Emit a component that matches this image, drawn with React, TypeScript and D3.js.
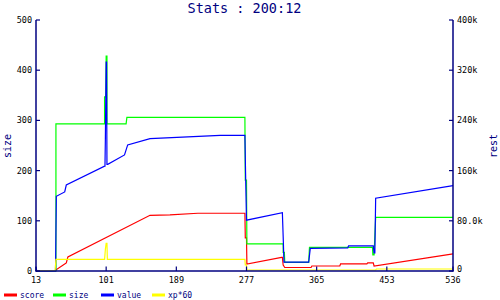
import React from "react";
import * as d3 from "d3";

const title = "Stats : 200:12";
const xTicks = [13, 101, 189, 277, 365, 453, 536];
const leftTicks = [0, 100, 200, 300, 400, 500];
const rightTicks = [0, 80000, 160000, 240000, 320000, 400000];
const rightTickLabels = ["0", "80.0k", "160k", "240k", "320k", "400k"];

// score (left axis)
const scoreData: [number, number][] = [
  [13, 0], [37, 1], [49, 14], [51, 16], [53, 28], [156, 111], [181, 112], [216, 115], [275, 115],
  [275.5, 66], [277, 66], [277.5, 14], [321, 27], [322, 27], [323, 12], [325, 7], [358, 7], [359, 10],
  [394, 10], [395, 14], [428, 14], [429, 16], [436, 16], [437, 10], [536, 34],
];
// size (left axis)
const sizeData: [number, number][] = [
  [13, 0], [38, 0], [38, 293], [99, 293], [99, 347], [100.5, 347], [101, 428], [102, 428], [102, 293],
  [126, 293], [127, 306], [275, 306], [275.5, 181], [277, 181], [277.5, 54], [323, 54], [323, 37],
  [324.5, 37], [325, 17], [355, 17], [356, 47], [435, 47], [435.5, 32], [437, 32], [438, 70], [439, 107], [536, 107],
];
// value (right axis, thousands)
const valueData: [number, number][] = [
  [13, 6], [14, 0], [37.5, 0], [38, 61], [38.5, 119], [49, 126], [51, 137], [99, 167], [99.5, 167],
  [100, 210], [101, 333], [101.5, 333], [102, 170], [103, 170], [124, 185], [126, 193], [128, 201],
  [156, 211], [244, 216], [275, 216], [276, 145], [277, 81], [322, 93], [323, 55], [324, 14], [355, 14],
  [357, 36], [404, 37], [405, 40], [436, 40], [437, 29], [438, 29], [439, 116], [536, 136],
];
// xp*60 (left axis)
const xpData: [number, number][] = [
  [13, 1], [37, 1], [38, 23], [99, 23], [100, 43], [101, 55], [102, 55], [102.5, 23], [275, 23],
  [275.5, 12], [277, 12], [277.5, 2], [439, 2], [440, 4], [536, 4],
];

const legendNames = ["score", "size", "value", "xp*60"];
const colors = ["#ff0000", "#00ff00", "#0000ff", "#ffff00"];

export default function App() {
  const W = 500, H = 300;
  const x = d3.scaleLinear().domain([13, 536]).range([36, 453]);
  const yL = d3.scaleLinear().domain([0, 500]).range([271, 20]);
  const yR = d3.scaleLinear().domain([0, 400000]).range([271, 20]);
  const navy = "#000080";
  const font = "'DejaVu Sans Mono', monospace";

  const lineL = d3.line<[number, number]>().x(d => x(d[0])).y(d => yL(d[1]));
  const lineR = d3.line<[number, number]>().x(d => x(d[0])).y(d => yR(d[1] * 1000));

  const series = [
    lineL(scoreData),
    lineL(sizeData),
    lineR(valueData),
    lineL(xpData),
  ];
  const legendX = [4, 53, 101, 152];

  return (
    <svg width={W} height={H} style={{ position: "absolute", left: 0, top: 0, background: "#fff" }}>
      <text x={244.5} y={13} textAnchor="middle" fontFamily={font} fontSize={13.5} fill={navy}>{title}</text>
      {series.map((d, i) => (
        <path key={i} d={d || ""} fill="none" stroke={colors[i]} strokeWidth={1.2} />
      ))}
      {/* axes */}
      <line x1={36} x2={36} y1={20} y2={271.5} stroke={navy} strokeWidth={1.5} />
      <line x1={453} x2={453} y1={20} y2={271.5} stroke={navy} strokeWidth={1.5} />
      <line x1={35.5} x2={453.5} y1={271} y2={271} stroke={navy} strokeWidth={1.5} />
      {leftTicks.map(t => (
        <g key={"l" + t}>
          <line x1={36} x2={40} y1={yL(t)} y2={yL(t)} stroke={navy} strokeWidth={1.2} />
          <text x={32} y={yL(t)} dy="0.35em" textAnchor="end" fontFamily={font} fontSize={8.5} fill="#000">{t}</text>
        </g>
      ))}
      {rightTicks.map((t, i) => (
        <g key={"r" + t}>
          <line x1={449} x2={453} y1={yR(t)} y2={yR(t)} stroke={navy} strokeWidth={1.2} />
          <text x={457} y={yR(t) - (t === 0 ? 1.5 : 0)} dy="0.35em" textAnchor="start" fontFamily={font} fontSize={8.5} fill="#000">{rightTickLabels[i]}</text>
        </g>
      ))}
      {xTicks.map(t => (
        <g key={"x" + t}>
          <line x1={x(t)} x2={x(t)} y1={271} y2={266.5} stroke={navy} strokeWidth={1.2} />
          <text x={x(t)} y={282.5} textAnchor="middle" fontFamily={font} fontSize={8.5} fill="#000">{t}</text>
        </g>
      ))}
      <text transform="translate(11,146) rotate(-90)" textAnchor="middle" fontFamily={font} fontSize={10} fill={navy}>size</text>
      <text transform="translate(497,146) rotate(-90)" textAnchor="middle" fontFamily={font} fontSize={10} fill={navy}>rest</text>
      {legendNames.map((n, i) => (
        <g key={n}>
          <line x1={legendX[i]} x2={legendX[i] + 13} y1={295} y2={295} stroke={colors[i]} strokeWidth={3} />
          <text x={legendX[i] + 16} y={298} fontFamily={font} fontSize={8} fill={navy}>{n}</text>
        </g>
      ))}
    </svg>
  );
}
